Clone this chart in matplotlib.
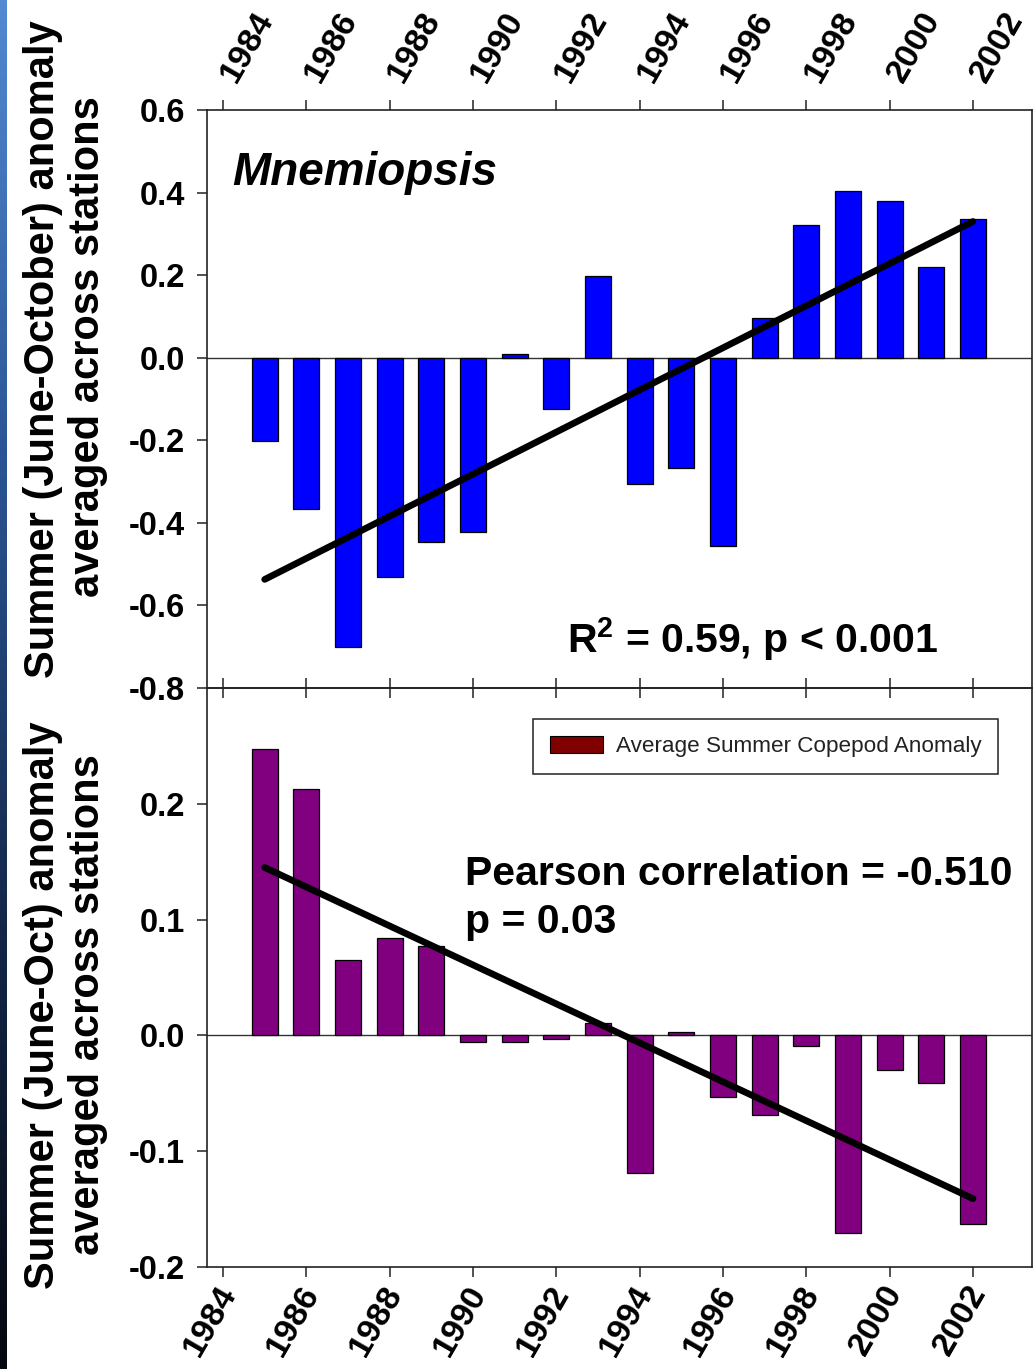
import numpy as np
import matplotlib
matplotlib.use("Agg")
import matplotlib.pyplot as plt
from matplotlib.patches import Patch
from matplotlib.colors import LinearSegmentedColormap
import matplotlib.transforms as mtransforms

plt.rcParams['font.family'] = ['Liberation Sans', 'DejaVu Sans']
plt.rcParams['axes.unicode_minus'] = False
plt.rcParams['mathtext.fontset'] = 'custom'
plt.rcParams['mathtext.rm'] = 'Liberation Sans:bold'
plt.rcParams['mathtext.it'] = 'Liberation Sans:bold'
plt.rcParams['mathtext.bf'] = 'Liberation Sans:bold'

# yearly anomalies, 1985-2002
years = list(range(1985, 2003))
mnemiopsis = [-0.202, -0.366, -0.700, -0.531, -0.446, -0.421, 0.010, -0.125, 0.199,
              -0.307, -0.266, -0.455, 0.095, 0.322, 0.403, 0.379, 0.219, 0.337]
copepod = [0.247, 0.213, 0.065, 0.084, 0.077, -0.006, -0.006, -0.003, 0.011,
           -0.119, 0.003, -0.053, -0.069, -0.009, -0.171, -0.030, -0.041, -0.163]

# fitted trend lines (end points)
trend_years = [1985, 2002]
mnem_trend = [-0.537, 0.330]
cop_trend = [0.145, -0.141]

tick_years = list(range(1984, 2003, 2))
top_yticks = [-0.8, -0.6, -0.4, -0.2, 0.0, 0.2, 0.4, 0.6]
bot_yticks = [-0.2, -0.1, 0.0, 0.1, 0.2]

W, H = 1036, 1369
fig = plt.figure(figsize=(W / 100, H / 100), dpi=100)
fig.patch.set_facecolor('white')

# blue strip down the left edge
strip = fig.add_axes([0, 0, 7 / W, 1])
cmap = LinearSegmentedColormap.from_list('strip', ['#5289d2', '#2a5594', '#14284a', '#05080f'])
strip.imshow(np.linspace(0, 1, 256).reshape(-1, 1), cmap=cmap, aspect='auto')
strip.axis('off')

left, right = 207 / W, 1032 / W
ax1 = fig.add_axes([left, 1 - 688 / H, right - left, (688 - 110) / H])
ax2 = fig.add_axes([left, 1 - 1267 / H, right - left, (1267 - 688) / H])
ax2.set_facecolor('none')

spine_col = '#222222'
for ax in (ax1, ax2):
    ax.set_xlim(1983.616, 2003.416)
    ax.set_xticks(tick_years)
    for s in ax.spines.values():
        s.set_color(spine_col)
        s.set_linewidth(1.2)
    ax.axhline(0, color='#333333', lw=1.0, zorder=1)
    ax.tick_params(axis='both', direction='out', length=7, width=1.1, color=spine_col,
                   labelsize=23.5)
    ax.tick_params(axis='y', right=False, pad=9)

# top panel: Mnemiopsis
ax1.bar(years, mnemiopsis, width=0.62, color='#0000ff', edgecolor='black', lw=0.9, zorder=2)
ax1.plot(trend_years, mnem_trend, color='black', lw=4.8, solid_capstyle='round', zorder=3)
ax1.set_ylim(-0.8, 0.6)
ax1.set_yticks(top_yticks)
ax1.set_yticklabels(['%.1f' % v for v in top_yticks], fontweight='bold')
ax1.tick_params(axis='x', top=True, labeltop=True, bottom=True, labelbottom=False,
                pad=15, labelsize=24.5)
ax1.set_xticklabels([str(y) for y in tick_years], fontweight='bold')
off = mtransforms.ScaledTranslation(6 / 100, 0, fig.dpi_scale_trans)
for lab in ax1.get_xticklabels(which='major'):
    lab.set_rotation(60)
    lab.set_ha('left')
    lab.set_va('center')
    lab.set_rotation_mode('anchor')
    lab.set_transform(lab.get_transform() + off)

ax1.text(0.030, 0.870, 'Mnemiopsis', transform=ax1.transAxes, fontsize=33,
         fontweight='bold', fontstyle='italic', va='baseline')
ax1.text(0.436, 0.062, 'R$^{2}$ = 0.59, p < 0.001', transform=ax1.transAxes, fontsize=29.5,
         fontweight='bold', va='baseline')

# bottom panel: copepods
ax2.bar(years, copepod, width=0.62, color='#800080', edgecolor='black', lw=0.9, zorder=2)
ax2.plot(trend_years, cop_trend, color='black', lw=4.8, solid_capstyle='round', zorder=3)
ax2.set_ylim(-0.2, 0.3)
ax2.set_yticks(bot_yticks)
ax2.set_yticklabels(['%.1f' % v for v in bot_yticks], fontweight='bold')
ax2.tick_params(axis='x', top=True, labeltop=False, bottom=True, labelbottom=True,
                pad=8, labelsize=24.5)
ax2.set_xticklabels([str(y) for y in tick_years], fontweight='bold')
off2 = mtransforms.ScaledTranslation(6 / 100, 0, fig.dpi_scale_trans)
for lab in ax2.get_xticklabels(which='major'):
    lab.set_rotation(60)
    lab.set_ha('right')
    lab.set_va('center')
    lab.set_rotation_mode('anchor')
    lab.set_transform(lab.get_transform() + off2)

ax2.text(0.3127, 0.660, 'Pearson correlation = -0.510', transform=ax2.transAxes,
         fontsize=29.5, fontweight='bold', va='baseline')
ax2.text(0.3127, 0.577, 'p = 0.03', transform=ax2.transAxes,
         fontsize=29.5, fontweight='bold', va='baseline')

handle = Patch(facecolor='#800000', edgecolor='black', lw=0.8,
               label='Average Summer Copepod Anomaly')
leg = ax2.legend(handles=[handle], loc='upper right', bbox_to_anchor=(0.9588, 0.9465),
                 borderaxespad=0, fontsize=16.2, fancybox=False, framealpha=1,
                 edgecolor='#222222', borderpad=0.75, handlelength=2.35, handleheight=0.8,
                 handletextpad=0.55)
leg.get_frame().set_linewidth(1.1)
for t in leg.get_texts():
    t.set_color('#222222')

# two-line axis titles
lab_kw = dict(rotation=90, ha='center', va='center', fontsize=30, fontweight='bold')
fig.text(43 / W, 1 - 349 / H, 'Summer (June-October) anomaly', **lab_kw)
fig.text(88 / W, 1 - 347 / H, 'averaged across stations', **lab_kw)
fig.text(43 / W, 1 - 1005 / H, 'Summer (June-Oct) anomaly', **lab_kw)
fig.text(88 / W, 1 - 1005 / H, 'averaged across stations', **lab_kw)

fig.savefig('out.png', dpi=100, facecolor='white')
